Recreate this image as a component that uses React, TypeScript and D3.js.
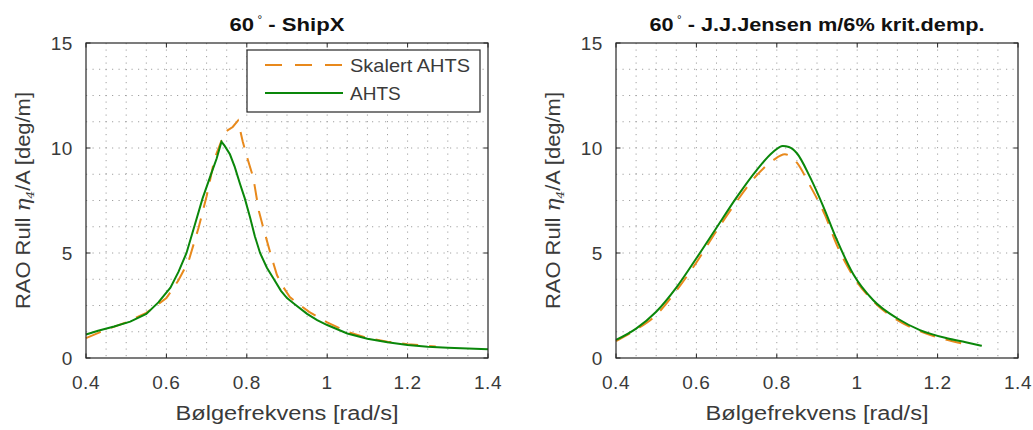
import React from "react";
import * as d3 from "d3";

// ---- Data ----
const xTicks = [0.4, 0.6, 0.8, 1.0, 1.2, 1.4];
const xTickLabels = ["0.4", "0.6", "0.8", "1", "1.2", "1.4"];
const yTicks = [0, 5, 10, 15];
const yTickLabels = ["0", "5", "10", "15"];
const seriesNames = ["Skalert AHTS", "AHTS"];

// Left panel (ShipX)
const shipxScaledX = [0.4, 0.45, 0.5, 0.55, 0.6, 0.63, 0.655, 0.68, 0.7, 0.72, 0.745, 0.765, 0.778, 0.79, 0.8, 0.816, 0.83, 0.841, 0.86, 0.875, 0.89, 0.907, 0.93, 0.955, 1.0, 1.05, 1.1, 1.15, 1.2, 1.27];
const shipxScaledY = [0.95, 1.35, 1.7, 2.15, 2.85, 3.7, 4.6, 6.2, 7.7, 9.5, 10.75, 11.0, 11.3, 10.3, 9.6, 8.6, 7.0, 6.2, 4.9, 3.95, 3.4, 2.9, 2.55, 2.2, 1.7, 1.25, 0.95, 0.78, 0.66, 0.55];
const shipxAhtsX = [0.4, 0.43, 0.47, 0.51, 0.55, 0.58, 0.61, 0.63, 0.65, 0.67, 0.69, 0.71, 0.725, 0.737, 0.745, 0.758, 0.77, 0.783, 0.795, 0.808, 0.82, 0.833, 0.85, 0.866, 0.885, 0.9, 0.92, 0.95, 0.975, 1.0, 1.05, 1.1, 1.15, 1.2, 1.25, 1.3, 1.35, 1.4];
const shipxAhtsY = [1.12, 1.3, 1.5, 1.73, 2.1, 2.65, 3.35, 4.1, 5.0, 6.3, 7.6, 8.7, 9.5, 10.3, 10.1, 9.7, 9.1, 8.3, 7.6, 6.7, 5.8, 5.0, 4.3, 3.8, 3.2, 2.85, 2.55, 2.1, 1.8, 1.57, 1.17, 0.92, 0.75, 0.62, 0.54, 0.49, 0.45, 0.42];

// Right panel (J.J.Jensen)
const jensenScaledX = [0.4, 0.45, 0.5, 0.55, 0.6, 0.65, 0.7, 0.75, 0.79, 0.82, 0.85, 0.88, 0.92, 0.95, 0.99, 1.04, 1.1, 1.16, 1.22, 1.265];
const jensenScaledY = [0.8, 1.35, 2.05, 3.2, 4.55, 6.05, 7.45, 8.7, 9.4, 9.7, 9.3, 8.3, 6.8, 5.35, 3.9, 2.7, 1.8, 1.25, 0.88, 0.68];
const jensenAhtsX = [0.4, 0.45, 0.5, 0.55, 0.6, 0.65, 0.7, 0.75, 0.79, 0.815, 0.83, 0.85, 0.883, 0.916, 0.95, 0.99, 1.04, 1.1, 1.156, 1.223, 1.27, 1.31];
const jensenAhtsY = [0.86, 1.4, 2.2, 3.35, 4.75, 6.2, 7.65, 8.95, 9.8, 10.1, 10.05, 9.75, 8.6, 7.2, 5.6, 4.0, 2.75, 1.88, 1.33, 0.94, 0.75, 0.58];

const ORANGE = "#e8891c";
const GREEN = "#0a870a";
const AXIS = "#262626";
const FONT = "'Liberation Sans', Arial, Helvetica, sans-serif";

type PanelProps = {
  left: number;
  titleMain: string;
  titleLen: number;
  scaledX: number[];
  scaledY: number[];
  ahtsX: number[];
  ahtsY: number[];
  legend: boolean;
  smooth: boolean;
};

function Panel(p: PanelProps) {
  const top = 43, bottom = 358, width = 402;
  const x = d3.scaleLinear().domain([0.4, 1.4]).range([p.left, p.left + width]);
  const y = d3.scaleLinear().domain([0, 15]).range([bottom, top]);
  const curve = p.smooth ? d3.curveMonotoneX : d3.curveLinear;
  const line = d3.line<[number, number]>().x(d => x(d[0])).y(d => y(d[1])).curve(curve);
  const scaled = p.scaledX.map((v, i) => [v, p.scaledY[i]] as [number, number]);
  const ahts = p.ahtsX.map((v, i) => [v, p.ahtsY[i]] as [number, number]);

  const gridX = d3.range(1, 20).map(i => 0.4 + i * 0.05);
  const gridY = d3.range(1, 12).map(i => i * 1.25);
  const cx = p.left + width / 2;
  const cy = (top + bottom) / 2;
  const tl = 4.5;

  return (
    <g fontFamily={FONT}>
      <rect x={p.left} y={top} width={width} height={bottom - top} fill="#fff" />
      {gridX.map((g, i) => (
        <line key={"gx" + i} x1={x(g)} x2={x(g)} y1={top} y2={bottom} stroke="#a0a0a0" strokeWidth={1} strokeDasharray="1.2,5.3" />
      ))}
      {gridY.map((g, i) => (
        <line key={"gy" + i} x1={p.left} x2={p.left + width} y1={y(g)} y2={y(g)} stroke="#a0a0a0" strokeWidth={1} strokeDasharray="1.2,5.3" />
      ))}
      <path d={line(scaled) || ""} fill="none" stroke={ORANGE} strokeWidth={2} strokeDasharray="16,11" />
      <path d={line(ahts) || ""} fill="none" stroke={GREEN} strokeWidth={2} />
      {/* box */}
      <rect x={p.left} y={top} width={width} height={bottom - top} fill="none" stroke={AXIS} strokeWidth={1.2} />
      {xTicks.map((t, i) => (
        <g key={"xt" + i}>
          <line x1={x(t)} x2={x(t)} y1={bottom} y2={bottom - tl} stroke={AXIS} />
          <line x1={x(t)} x2={x(t)} y1={top} y2={top + tl} stroke={AXIS} />
          <text x={x(t)} y={389} textAnchor="middle" fontSize={19} fill="#3a3a3a" letterSpacing={0.6}>{xTickLabels[i]}</text>
        </g>
      ))}
      {yTicks.map((t, i) => (
        <g key={"yt" + i}>
          <line x1={p.left} x2={p.left + tl} y1={y(t)} y2={y(t)} stroke={AXIS} />
          <line x1={p.left + width} x2={p.left + width - tl} y1={y(t)} y2={y(t)} stroke={AXIS} />
          <text x={p.left - 13} y={y(t) + 7} textAnchor="end" fontSize={19} fill="#3a3a3a" letterSpacing={0.6}>{yTickLabels[i]}</text>
        </g>
      ))}
      {/* title */}
      <text x={cx} y={31} textAnchor="middle" fontSize={19} fontWeight="bold" fill="#111" textLength={p.titleLen} lengthAdjust="spacingAndGlyphs">
        60<tspan dx={3} dy={-8} fontSize={10} fontWeight="normal">°</tspan><tspan dy={8}>{" - " + p.titleMain}</tspan>
      </text>
      {/* x label */}
      <text x={cx} y={420} textAnchor="middle" fontSize={20} fill="#3a3a3a" textLength={223} lengthAdjust="spacingAndGlyphs">Bølgefrekvens [rad/s]</text>
      {/* y label */}
      <text transform={`translate(${p.left - 56},${cy}) rotate(-90)`} textAnchor="middle" fontSize={20} fill="#3a3a3a" textLength={217} lengthAdjust="spacingAndGlyphs">
        RAO Rull <tspan fontStyle="italic" fontFamily="'DejaVu Serif', serif">η</tspan><tspan fontSize={11} dy={4} fontStyle="italic" fontFamily="'DejaVu Serif', serif">4</tspan><tspan dy={-4}>/A [deg/m]</tspan>
      </text>
      {p.legend && (
        <g>
          <rect x={247} y={50} width={233} height={62} fill="#fff" stroke={AXIS} strokeWidth={1.2} />
          <line x1={265} x2={343} y1={65} y2={65} stroke={ORANGE} strokeWidth={2} strokeDasharray="17,13" />
          <text x={350} y={72} fontSize={19} fill="#3a3a3a" textLength={120} lengthAdjust="spacingAndGlyphs">{seriesNames[0]}</text>
          <line x1={265} x2={343} y1={93} y2={93} stroke={GREEN} strokeWidth={2} />
          <text x={350} y={100} fontSize={19} fill="#3a3a3a">{seriesNames[1]}</text>
        </g>
      )}
    </g>
  );
}

export default function App() {
  return (
    <svg width={1033} height={430} style={{ position: "absolute", left: 0, top: 0, background: "#fff" }}>
      <rect x={0} y={0} width={1033} height={430} fill="#fff" />
      <Panel left={86} titleMain="ShipX" titleLen={115} scaledX={shipxScaledX} scaledY={shipxScaledY} ahtsX={shipxAhtsX} ahtsY={shipxAhtsY} legend={true} smooth={false} />
      <Panel left={616} titleMain="J.J.Jensen m/6% krit.demp." titleLen={335} scaledX={jensenScaledX} scaledY={jensenScaledY} ahtsX={jensenAhtsX} ahtsY={jensenAhtsY} legend={false} smooth={true} />
    </svg>
  );
}
